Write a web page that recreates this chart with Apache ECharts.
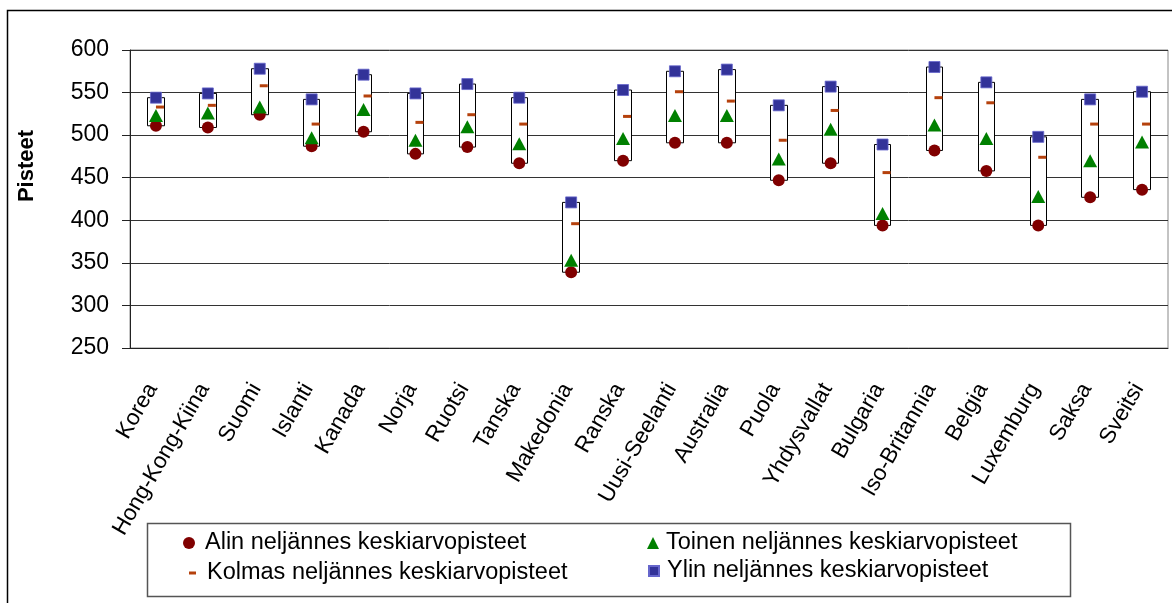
<!DOCTYPE html>
<html>
<head>
<meta charset="utf-8">
<title>Pisteet</title>
<script src="https://cdn.jsdelivr.net/npm/echarts@6/dist/echarts.min.js"></script>
<style>
  html, body { margin: 0; padding: 0; background: #fff; }
  #chart { width: 1172px; height: 603px; }
</style>
</head>
<body>
<div id="chart"></div>
<script>
// maat
var categories = ['Korea', 'Hong-Kong-Kiina', 'Suomi', 'Islanti', 'Kanada', 'Norja', 'Ruotsi', 'Tanska',
	'Makedonia', 'Ranska', 'Uusi-Seelanti', 'Australia', 'Puola', 'Yhdysvallat', 'Bulgaria',
	'Iso-Britannia', 'Belgia', 'Luxemburg', 'Saksa', 'Sveitsi'];

// neljännesten keskiarvopisteet
var alin = [511, 509, 524, 487, 504, 478, 486, 467, 339, 470, 491, 491, 447, 467, 394, 482, 458, 394, 427, 436];
var toinen = [523, 526, 533, 497, 530, 494, 510, 490, 353, 496, 523, 523, 472, 507, 408, 512, 496, 428, 470, 492];
var kolmas = [533, 535, 558, 513, 546, 515, 524, 513, 396, 522, 551, 540, 494, 529, 456, 544, 538, 474, 513, 513];
var ylin = [544, 549, 578, 542, 571, 549, 560, 544, 421, 553, 575, 577, 535, 557, 489, 580, 562, 498, 542, 551];

var yTicks = [250, 300, 350, 400, 450, 500, 550, 600];

var names = {
	alin: 'Alin neljännes keskiarvopisteet',
	toinen: 'Toinen neljännes keskiarvopisteet',
	kolmas: 'Kolmas neljännes keskiarvopisteet',
	ylin: 'Ylin neljännes keskiarvopisteet'
};

var font = 'Liberation Sans, Arial, sans-serif';

// laatikot alimmasta ylimpään
var boxes = [];
for (var i = 0; i < categories.length; i++) {
	boxes.push([alin[i], ylin[i], alin[i], ylin[i]]);
}

function legendItem(name, left, top, w, h, pad) {
	return {
		data: [name],
		left: left,
		top: top,
		padding: 0,
		itemWidth: w,
		itemHeight: h,
		textStyle: { fontFamily: font, fontSize: 23.5, color: '#000', padding: [0, 0, 0, pad] }
	};
}

var myChart = echarts.init(document.getElementById('chart'));

var option = {
	backgroundColor: '#fff',
	animation: false,
	grid: {
		left: 130,
		right: 4,
		top: 50,
		bottom: 255,
		show: true,
		borderColor: '#888',
		borderWidth: 1
	},
	graphic: [
		{
			type: 'rect',
			shape: { x: 7.5, y: 10.5, width: 1200, height: 700 },
			style: { fill: 'none', stroke: '#000', lineWidth: 1.5 },
			silent: true
		},
		{
			type: 'rect',
			shape: { x: 147.5, y: 523.5, width: 923, height: 73 },
			style: { fill: 'none', stroke: '#555', lineWidth: 1.5 },
			silent: true
		},
		{
			type: 'text',
			x: 27,
			y: 166,
			rotation: Math.PI / 2,
			style: {
				text: 'Pisteet',
				fontFamily: font,
				fontSize: 22,
				fontWeight: 'bold',
				fill: '#000',
				align: 'center',
				verticalAlign: 'middle'
			}
		}
	],
	legend: [
		legendItem(names.alin, 183, 531, 12, 12, 5),
		legendItem(names.kolmas, 189, 561, 7, 3, 6),
		legendItem(names.toinen, 647, 531, 12, 12, 2),
		legendItem(names.ylin, 648, 559, 10, 10, 3)
	],
	xAxis: {
		type: 'category',
		data: categories,
		axisLine: { lineStyle: { color: '#222', width: 1 } },
		axisTick: { interval: 0, length: 8, lineStyle: { color: '#222' } },
		axisLabel: {
			interval: 0,
			rotate: 60,
			margin: 31,
			padding: [0, 7, 0, 0],
			fontFamily: font,
			fontSize: 22.5,
			color: '#000'
		},
		splitLine: { show: false }
	},
	yAxis: {
		type: 'value',
		min: yTicks[0],
		max: yTicks[yTicks.length - 1],
		interval: 50,
		axisLine: { show: true, lineStyle: { color: '#222', width: 1 } },
		axisTick: { show: true, length: 8, lineStyle: { color: '#222' } },
		axisLabel: { margin: 21, fontFamily: font, fontSize: 23, color: '#000' },
		splitLine: { lineStyle: { color: '#333', width: 1 } }
	},
	series: [
		{
			name: 'box',
			type: 'candlestick',
			data: boxes,
			barWidth: 17,
			itemStyle: {
				color: '#fff',
				color0: '#fff',
				borderColor: '#000',
				borderColor0: '#000',
				borderWidth: 1
			},
			z: 2
		},
		{
			name: names.alin,
			type: 'scatter',
			data: alin,
			symbol: 'circle',
			symbolSize: 12,
			itemStyle: { color: '#800000', opacity: 1 },
			z: 3
		},
		{
			name: names.toinen,
			type: 'scatter',
			data: toinen,
			symbol: 'triangle',
			symbolSize: [14, 13],
			itemStyle: { color: '#008000', opacity: 1 },
			z: 4
		},
		{
			name: names.kolmas,
			type: 'scatter',
			data: kolmas,
			symbol: 'rect',
			symbolSize: [8, 3],
			symbolOffset: [4, 0],
			itemStyle: { color: '#b5410c', opacity: 1 },
			z: 5
		},
		{
			name: names.ylin,
			type: 'scatter',
			data: ylin,
			symbol: 'rect',
			symbolSize: 11,
			itemStyle: { color: '#333399', borderColor: '#6666cc', borderWidth: 0.8, opacity: 1 },
			z: 6
		}
	]
};

myChart.setOption(option);
</script>
</body>
</html>
